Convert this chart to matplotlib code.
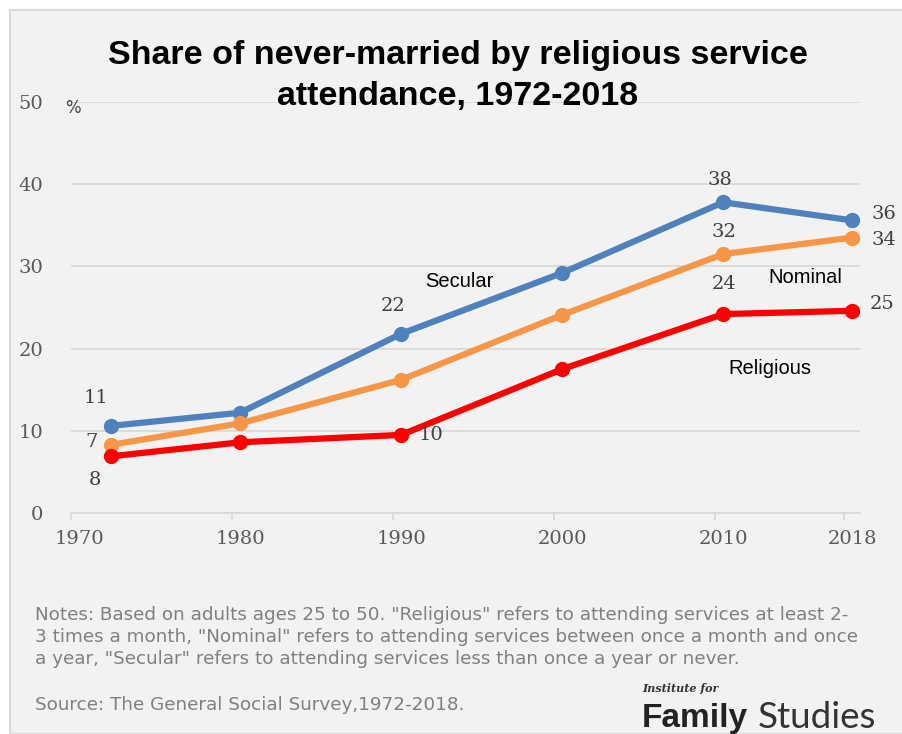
import numpy as np
import matplotlib
matplotlib.use("Agg")
import matplotlib.pyplot as plt
from matplotlib.patches import Rectangle

# survey waves (plotted at mid-year, like the original)
years = [1972.5, 1980.5, 1990.5, 2000.5, 2010.5, 2018.5]
secular = [10.6, 12.2, 21.8, 29.2, 37.8, 35.6]
nominal = [8.3, 10.9, 16.2, 24.1, 31.5, 33.5]
religious = [6.9, 8.6, 9.5, 17.5, 24.2, 24.6]

tick_years = [1970, 1980, 1990, 2000, 2010, 2018]
y_ticks = [0, 10, 20, 30, 40, 50]

# data labels as printed on the original: (series, index, text, dx px, dy px)
point_labels = [
    ("secular", 0, "11", -15, 28), ("nominal", 0, "7", -20, 3), ("religious", 0, "8", -16, -24),
    ("secular", 2, "22", -8, 28), ("religious", 2, "10", 30, 0),
    ("secular", 4, "38", -3, 22), ("nominal", 4, "32", 1, 22), ("religious", 4, "24", 1, 30),
    ("secular", 5, "36", 32, 6), ("nominal", 5, "34", 32, -2), ("religious", 5, "25", 30, 7),
]

colors = {"secular": "#4F81BD", "nominal": "#F79646", "religious": "#FF0000"}
series = {"secular": secular, "nominal": nominal, "religious": religious}

W, H = 903, 734
fig = plt.figure(figsize=(W / 100, H / 100), dpi=100)
fig.patch.set_facecolor("white")
fig.patches.append(Rectangle((10 / W, 0), 1, 1 - 10 / H, transform=fig.transFigure,
                             facecolor="#f2f2f2", edgecolor="#d9d9d9", lw=1.5, zorder=-5))

ax = fig.add_axes([71 / W, 1 - 513 / H, (860 - 71) / W, (513 - 102) / H])
ax.set_facecolor("none")

for key in ["secular", "nominal", "religious"]:
    ax.plot(years, series[key], color=colors[key], lw=4.5, marker="o", ms=10,
            solid_capstyle="round", zorder=3)

serif = "DejaVu Serif"
for key, i, txt, dx, dy in point_labels:
    ax.annotate(txt, (years[i], series[key][i]), xytext=(dx, dy), textcoords="offset pixels",
                ha="center", va="center", fontsize=14, family=serif, color="#404040")

# series names placed next to the lines
ax.text(1994.1, 28.2, "Secular", fontsize=14.5, family="Liberation Sans", ha="center", va="center")
ax.text(2015.6, 28.7, "Nominal", fontsize=14.5, family="Liberation Sans", ha="center", va="center")
ax.text(2013.4, 17.6, "Religious", fontsize=14.5, family="Liberation Sans", ha="center", va="center")

ax.set_xlim(1970, 2019)
ax.set_ylim(0, 50)
ax.set_yticks(y_ticks)
ax.set_yticklabels([str(v) for v in y_ticks], family=serif, fontsize=14, color="#595959")
ax.tick_params(axis="y", length=0, pad=20)
ax.grid(axis="y", color="#d9d9d9", lw=1.3)
ax.set_axisbelow(True)

ax.set_xticks(tick_years)
ax.set_xticklabels([])
ax.set_xticks([y + 0.5 for y in tick_years], minor=True)
ax.set_xticklabels([str(y) for y in tick_years], minor=True, family=serif, fontsize=14,
                   color="#595959")
ax.tick_params(axis="x", which="major", length=5, color="#d9d9d9", width=1.3)
ax.tick_params(axis="x", which="minor", length=0, pad=12)

for s in ["top", "right", "left"]:
    ax.spines[s].set_visible(False)
ax.spines["bottom"].set_color("#d9d9d9")
ax.spines["bottom"].set_linewidth(1.3)

fig.text(65 / W, 1 - 108 / H, "%", fontsize=12, color="#404040", ha="left", va="center")

fig.text(458 / W, 1 - 76 / H, "Share of never-married by religious service\nattendance, 1972-2018",
         fontsize=24.5, weight="bold", family="Liberation Sans", ha="center", va="center",
         linespacing=1.4)

notes = ('Notes: Based on adults ages 25 to 50. "Religious" refers to attending services at least 2-\n'
         '3 times a month, "Nominal" refers to attending services between once a month and once\n'
         'a year, "Secular" refers to attending services less than once a year or never.')
fig.text(35 / W, 1 - 637 / H, notes, fontsize=13.2, color="#808080", ha="left", va="center",
         linespacing=1.25)
fig.text(35 / W, 1 - 705 / H, "Source: The General Social Survey,1972-2018.", fontsize=13.2,
         color="#808080", ha="left", va="center")

fig.text(642 / W, 1 - 689 / H, "Institute for", fontsize=8, style="italic", family="DejaVu Serif",
         weight="bold", color="#333333", ha="left", va="center")
fig.text(642 / W, 1 - 718 / H, "Family", fontsize=24, weight="bold", family="Liberation Sans",
         color="#222222", ha="left", va="center")
fig.text(758 / W, 1 - 718 / H, "Studies", fontsize=26.5, family="Lato", weight="normal",
         color="#333333", ha="left", va="center")

fig.savefig("out.png", dpi=100)
